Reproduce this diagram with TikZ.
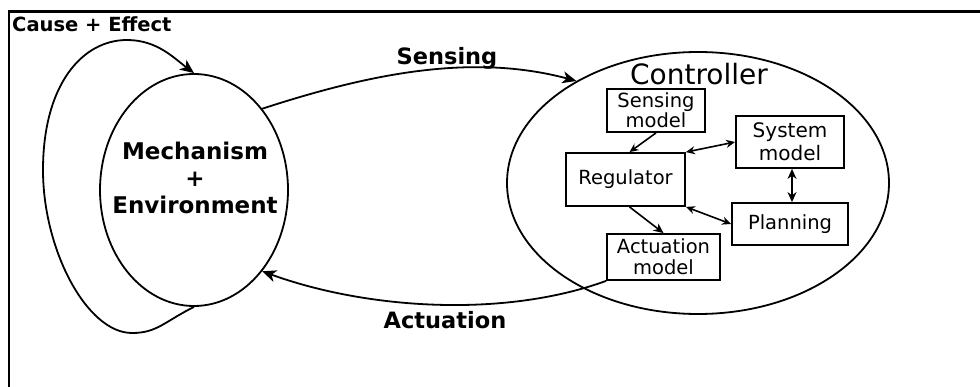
\documentclass[tikz,border=0pt]{standalone}
\usepackage{fontspec}
\setmainfont{DejaVu Sans}
\usetikzlibrary{arrows.meta,shapes.geometric}
\tikzset{
  big/.style={-{Stealth[length=14pt,width=12pt,inset=4pt]}, line width=1.8pt},
  smalltip/.style={line width=1.6pt},
  boxnode/.style={draw, line width=1.8pt, inner sep=0pt, align=center, font=\fontsize{19.5}{21}\selectfont},
  ell/.style={draw, ellipse, line width=1.8pt, inner sep=0pt},
  lbl/.style={font=\bfseries\fontsize{22.5}{27}\selectfont, align=center, inner sep=0pt},
}
\begin{document}
\begin{tikzpicture}[x=1pt,y=1pt]
\useasboundingbox (0,0) rectangle (980,-387);
% frame
\draw[line width=2.4pt] (9,-387) -- (9,-11.5) -- (980,-11.5);
\node[anchor=base west, inner sep=0pt, font=\bfseries\fontsize{19.5}{22}\selectfont] (ce) at (12,-32) {Cause + Effect};
% ellipses
\node[ell, minimum width=188pt, minimum height=232pt] (mech) at (194,-190) {};
\node[lbl, font=\bfseries\fontsize{23}{27}\selectfont] (mechtext) at (195,-178) {Mechanism\\+\\Environment};
\node[ell, minimum width=382pt, minimum height=262pt] (ctrl) at (698,-183) {};
\node[inner sep=0pt, font=\fontsize{28}{30}\selectfont] (ctrltext) at (699,-74) {Controller};
% boxes
\node[boxnode, minimum width=98pt, minimum height=43pt, font=\fontsize{19.5}{20}\selectfont] (sm) at (656,-110.5) {Sensing\\model};
\node[boxnode, minimum width=108pt, minimum height=52pt, font=\fontsize{20}{23}\selectfont] (sys) at (790,-142) {System\\model};
\node[boxnode, minimum width=119pt, minimum height=53pt] (reg) at (625.5,-179.5) {Regulator};
\node[boxnode, minimum width=116pt, minimum height=42pt] (plan) at (790,-224) {Planning};
\node[boxnode, minimum width=113pt, minimum height=46pt] (act) at (663.5,-257) {Actuation\\model};
% inner arrows
\draw[smalltip, -{Stealth[length=9pt,width=8pt]}] (sm.south) -- ([xshift=4pt]reg.north);
\draw[smalltip, {Stealth[length=9pt,width=8pt]}-{Stealth[length=9pt,width=8pt]}] (reg.north east) -- (sys.west);
\draw[smalltip, {Stealth[length=9pt,width=8pt]}-{Stealth[length=9pt,width=8pt]}] (reg.south east) -- (plan.west);
\draw[line width=2.2pt, {Stealth[length=10pt,width=9pt]}-{Stealth[length=10pt,width=9pt]}] ([xshift=2pt]sys.south) -- ([xshift=2pt]plan.north);
\draw[smalltip, -{Stealth[length=10pt,width=9pt]}] ([xshift=4pt]reg.south) -- (act.north);
% sensing and actuation
\draw[big] (mech.50.3) .. controls +(18:110) and +(165:110) .. (ctrl.140.4);
\node[lbl] (senslbl) at (447,-58) {Sensing};
\draw[big] (act.south west) .. controls +(200:110) and +(-20:110) .. (mech.-50.3);
\node[lbl] (actlbl) at (445,-320) {Actuation};
% cause-effect loop
\draw[big] (mech.south) .. controls +(-30,-15) and +(25,0) .. (132,-333)
  .. controls +(-45,0) and +(0,-80) .. (43,-170)
  .. controls +(0,85) and +(-45,0) .. (127,-40)
  .. controls +(30,0) and +(-20,15) .. (mech.north);
\end{tikzpicture}
\end{document}
